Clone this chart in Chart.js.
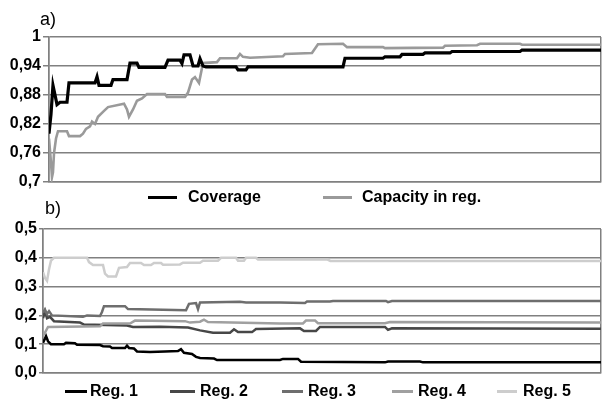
<!DOCTYPE html>
<html lang="en">
<head>
    <meta charset="UTF-8">
    <title>Coverage and capacity per region</title>
    <script src="https://cdn.jsdelivr.net/npm/chart.js"></script>
    <style>
        * {
            margin: 0;
            padding: 0;
            box-sizing: border-box;
        }
        body {
            width: 603px;
            height: 403px;
            background: #fff;
            position: relative;
            overflow: hidden;
            font-family: 'Liberation Sans', Arial, sans-serif;
        }
        .box {
            position: absolute;
            left: 0;
            width: 603px;
        }
        #boxA { top: 0; height: 200px; }
        #boxB { top: 200px; height: 203px; }
        .tag {
            position: absolute;
            font-size: 18px;
            line-height: 18px;
            color: #000;
        }
        .leg-line {
            position: absolute;
            height: 3px;
        }
        .leg-text {
            position: absolute;
            font-size: 16px;
            font-weight: bold;
            line-height: 16px;
            color: #000;
            white-space: nowrap;
        }
    </style>
</head>
<body>
    <div class="box" id="boxA"><canvas id="chartA"></canvas></div>
    <div class="box" id="boxB"><canvas id="chartB"></canvas></div>
    <div class="tag" style="left:40px; top:10px;">a)</div>
    <div class="tag" style="left:45px; top:199px;">b)</div>
    <div id="legends"></div>

    <script>
        // a) coverage / capacity (x = iteration, 0..100)
        const covX = [0, 0.36, 0.72, 1.09, 1.45, 1.99, 3.26, 3.62, 8.33, 8.70, 9.06, 11.23, 11.59, 14.13, 14.67, 15.94, 16.30,
            21.01, 21.56, 23.73, 24.09, 24.46, 25.54, 26.09, 26.99, 27.36, 27.90, 28.44, 33.88, 34.24, 35.69, 36.05,
            53.26, 53.62, 60.51, 60.87, 63.59, 63.95, 67.75, 68.12, 72.64, 73.01, 85.33, 85.69, 100];
        const covY = [0.80, 0.84, 0.90, 0.88, 0.86, 0.865, 0.865, 0.905, 0.905, 0.918, 0.90, 0.90, 0.912, 0.912, 0.946, 0.946, 0.937,
            0.937, 0.952, 0.952, 0.945, 0.963, 0.963, 0.94, 0.94, 0.955, 0.94, 0.938, 0.938, 0.932, 0.932, 0.938,
            0.938, 0.956, 0.956, 0.959, 0.959, 0.964, 0.964, 0.967, 0.967, 0.970, 0.970, 0.973, 0.973];
        const capX = [0, 0.36, 0.54, 0.72, 0.91, 1.27, 1.63, 3.26, 3.62, 5.62, 6.16, 6.70, 7.43, 7.79, 8.33, 8.88, 9.78, 10.69,
            13.59, 14.13, 14.49, 15.22, 15.94, 16.85, 17.75, 21.01, 21.38, 24.64, 25.18, 25.91, 26.45, 27.17, 27.90,
            30.43, 30.98, 34.06, 34.60, 35.14, 36.41, 42.39, 42.75, 47.64, 48.73, 53.26, 53.99, 60.51, 60.87,
            71.38, 71.74, 77.54, 78.08, 85.33, 85.69, 100];
        const capY = [0.79, 0.74, 0.71, 0.72, 0.76, 0.79, 0.805, 0.805, 0.795, 0.795, 0.80, 0.81, 0.815, 0.825, 0.82, 0.835, 0.845, 0.855,
            0.862, 0.85, 0.835, 0.85, 0.868, 0.873, 0.882, 0.882, 0.876, 0.876, 0.885, 0.912, 0.917, 0.905, 0.946,
            0.948, 0.956, 0.956, 0.965, 0.959, 0.957, 0.96, 0.965, 0.967, 0.985, 0.986, 0.979, 0.979, 0.977,
            0.978, 0.982, 0.983, 0.986, 0.986, 0.984, 0.984];
        const yTicksA = [0.7, 0.76, 0.82, 0.88, 0.94, 1];
        const yLabelsA = ['0,7', '0,76', '0,82', '0,88', '0,94', '1'];

        // b) share per region
        const reg1X = [0, 0.36, 0.54, 0.90, 1.43, 3.76, 4.12, 5.73, 6.09, 10.22, 10.75, 12.0, 12.37, 14.70, 15.05, 15.41, 16.31, 16.85,
            19.18, 21.86, 24.19, 24.73, 25.27, 26.70, 27.42, 28.14, 30.65, 31.18, 42.47, 43.01, 45.70, 46.24, 61.29, 61.83,
            67.56, 68.10, 100];
        const reg1Y = [0.105, 0.12, 0.128, 0.11, 0.10, 0.10, 0.105, 0.103, 0.098, 0.097, 0.093, 0.092, 0.087, 0.087, 0.095, 0.087, 0.085, 0.075,
            0.073, 0.075, 0.076, 0.083, 0.07, 0.066, 0.056, 0.052, 0.05, 0.045, 0.045, 0.049, 0.049, 0.039, 0.037, 0.04,
            0.04, 0.037, 0.037];
        const reg2X = [0, 0.36, 0.72, 1.25, 1.97, 6.63, 7.35, 15.05, 16.13, 21.0, 25.99, 28.14, 30.47, 33.51, 34.23, 34.95, 37.46, 38.17,
            46.06, 46.77, 48.92, 49.64, 61.29, 61.83, 62.54, 100];
        const reg2Y = [0.19, 0.215, 0.19, 0.195, 0.18, 0.175, 0.168, 0.165, 0.16, 0.161, 0.158, 0.148, 0.14, 0.14, 0.152, 0.142, 0.142, 0.153,
            0.155, 0.146, 0.146, 0.16, 0.16, 0.15, 0.155, 0.154];
        const reg3X = [0, 0.36, 0.72, 1.08, 1.61, 7.17, 7.89, 10.22, 10.57, 10.93, 14.70, 15.23, 25.63, 26.16, 27.42, 27.78, 28.14,
            35.30, 36.38, 42.47, 46.95, 47.31, 51.43, 51.97, 61.47, 61.83, 62.54, 100];
        const reg3Y = [0.21, 0.22, 0.205, 0.215, 0.20, 0.195, 0.20, 0.198, 0.212, 0.232, 0.232, 0.222, 0.218, 0.24, 0.243, 0.222, 0.245,
            0.247, 0.245, 0.245, 0.243, 0.248, 0.248, 0.25, 0.25, 0.246, 0.25, 0.25];
        const reg4X = [0, 0.36, 0.90, 10.22, 10.75, 15.59, 16.49, 25.45, 26.34, 28.14, 28.85, 29.57, 42.47, 46.59, 47.13, 48.75,
            49.28, 61.29, 62.19, 100];
        const reg4Y = [0.13, 0.14, 0.16, 0.162, 0.172, 0.172, 0.182, 0.18, 0.175, 0.178, 0.185, 0.177, 0.172, 0.172, 0.182, 0.182,
            0.173, 0.173, 0.177, 0.175];
        const reg5X = [0, 0.36, 0.72, 1.08, 1.43, 1.97, 7.89, 8.24, 8.96, 10.75, 11.11, 11.65, 13.08, 13.62, 15.05, 15.59, 17.56, 18.10,
            19.35, 19.89, 21.15, 21.51, 24.55, 25.09, 28.14, 28.67, 31.36, 31.90, 34.59, 34.95, 36.02, 36.38, 38.17, 38.53,
            51.0, 51.5, 100];
        const reg5Y = [0.35, 0.33, 0.32, 0.36, 0.39, 0.40, 0.40, 0.385, 0.375, 0.375, 0.345, 0.335, 0.335, 0.365, 0.368, 0.382, 0.382, 0.375,
            0.375, 0.382, 0.382, 0.376, 0.377, 0.383, 0.383, 0.39, 0.39, 0.40, 0.40, 0.39, 0.39, 0.40, 0.40, 0.394,
            0.394, 0.389, 0.389];
        const yTicksB = [0, 0.1, 0.2, 0.3, 0.4, 0.5];
        const yLabelsB = ['0,0', '0,1', '0,2', '0,3', '0,4', '0,5'];

        const pts = (xs, ys) => xs.map((x, i) => ({ x: x, y: ys[i] }));

        const tickFont = { family: "'Liberation Sans', Arial, sans-serif", size: 16, weight: 'bold' };
        const gridColor = '#808080';

        function makeOptions(yMin, yMax, ticks, labels, axisW) {
            return {
                responsive: true,
                maintainAspectRatio: false,
                animation: false,
                events: [],
                layout: { padding: { top: 0, bottom: 0, left: 0, right: 2 } },
                plugins: { legend: { display: false }, tooltip: { enabled: false } },
                scales: {
                    x: {
                        type: 'linear',
                        min: 0,
                        max: 100,
                        ticks: { display: false, stepSize: 100 },
                        grid: { color: gridColor, lineWidth: 1.5, drawTicks: false },
                        border: { color: gridColor, width: 1.5 },
                        afterFit: s => { s.height = 0; }
                    },
                    y: {
                        min: yMin,
                        max: yMax,
                        afterBuildTicks: s => { s.ticks = ticks.map(v => ({ value: v })); },
                        ticks: {
                            font: tickFont,
                            color: '#000',
                            padding: 2,
                            callback: (v, i) => labels[i]
                        },
                        grid: { color: gridColor, lineWidth: 1.5, tickLength: 6 },
                        border: { color: gridColor, width: 1.5 },
                        afterFit: s => { s.width = axisW; }
                    }
                }
            };
        }

        const optA = makeOptions(0.7, 1, yTicksA, yLabelsA, 49);
        optA.layout.padding.top = 37;
        optA.layout.padding.bottom = 18;

        const seriesA = [
            { label: 'Coverage', data: pts(covX, covY), color: '#000000', width: 3.2 },
            { label: 'Capacity in reg.', data: pts(capX, capY), color: '#9a9a9a', width: 2.6 }
        ];

        new Chart(document.getElementById('chartA'), {
            type: 'line',
            data: {
                datasets: seriesA.map(s => ({
                    label: s.label, data: s.data, borderColor: s.color, borderWidth: s.width,
                    pointRadius: 0, tension: 0, fill: false
                }))
            },
            options: optA
        });

        const optB = makeOptions(0, 0.5, yTicksB, yLabelsB, 43);
        optB.layout.padding.top = 29;
        optB.layout.padding.bottom = 30;
        optB.scales.y.grid.tickLength = 4;

        const seriesB = [
            { label: 'Reg. 1', data: pts(reg1X, reg1Y), color: '#000000' },
            { label: 'Reg. 2', data: pts(reg2X, reg2Y), color: '#474747' },
            { label: 'Reg. 3', data: pts(reg3X, reg3Y), color: '#6e6e6e' },
            { label: 'Reg. 4', data: pts(reg4X, reg4Y), color: '#a0a0a0' },
            { label: 'Reg. 5', data: pts(reg5X, reg5Y), color: '#cdcdcd' }
        ];

        new Chart(document.getElementById('chartB'), {
            type: 'line',
            data: {
                // draw lighter series first so the darker ones stay on top
                datasets: seriesB.map(s => ({
                    label: s.label, data: s.data, borderColor: s.color, borderWidth: 2.5,
                    pointRadius: 0, tension: 0, fill: false
                })).reverse()
            },
            options: optB
        });

        // legends under each panel
        const legA = [{ line: 148, w: 29, text: 188 }, { line: 323, w: 29, text: 362 }];
        const legB = [
            { line: 65, w: 22, text: 90 }, { line: 170, w: 25, text: 200 }, { line: 282, w: 21, text: 308 },
            { line: 392, w: 21, text: 418 }, { line: 497, w: 20, text: 523 }
        ];
        const legends = document.getElementById('legends');
        function addLegend(series, pos, cy) {
            series.forEach((s, i) => {
                const ln = document.createElement('div');
                ln.className = 'leg-line';
                ln.style.left = pos[i].line + 'px';
                ln.style.width = pos[i].w + 'px';
                ln.style.top = (cy - 1.5) + 'px';
                ln.style.background = s.color;
                legends.appendChild(ln);
                const tx = document.createElement('div');
                tx.className = 'leg-text';
                tx.style.left = pos[i].text + 'px';
                tx.style.top = (cy - 8) + 'px';
                tx.textContent = s.label;
                legends.appendChild(tx);
            });
        }
        addLegend(seriesA, legA, 197);
        addLegend(seriesB, legB, 391);
    </script>
</body>
</html>
